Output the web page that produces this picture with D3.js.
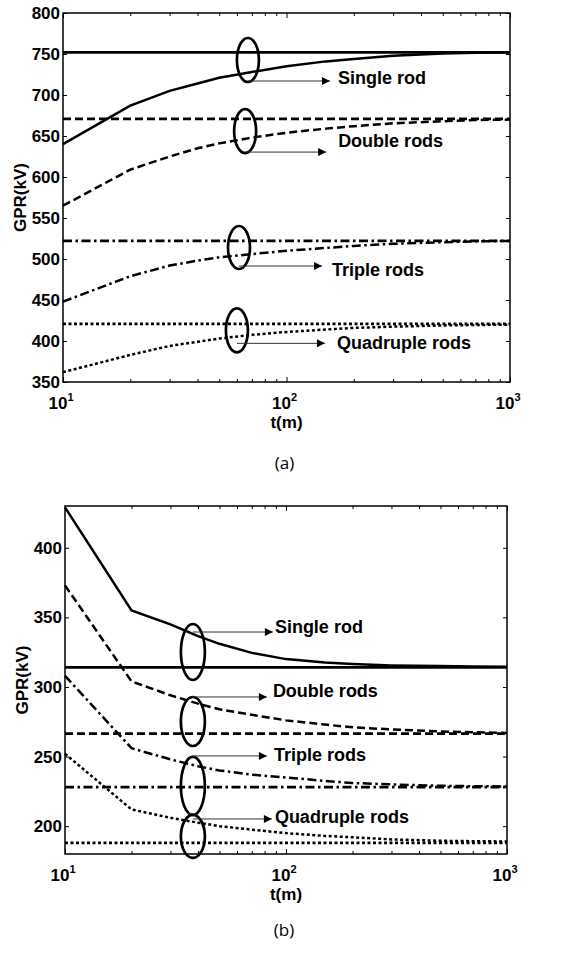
<!DOCTYPE html>
<html>
<head>
<meta charset="utf-8">
<script src="https://cdnjs.cloudflare.com/ajax/libs/d3/7.8.5/d3.min.js"></script>
<style>
body { margin: 0; background: #fff; }
svg text { font-family: "Liberation Sans", Arial, sans-serif; font-weight: bold; fill: #000; }
svg text.caption { font-family: "Open Sans", sans-serif; font-weight: normal; }
</style>
</head>
<body>
<div id="chart"></div>
<script>
// distance t (m), shared by both panels
var tValues = [10, 20, 30, 40, 50, 70, 100, 150, 200, 300, 500, 700, 1000];
var seriesNames = ["Single rod", "Double rods", "Triple rods", "Quadruple rods"];

// panel (a)
var singleA = [640, 687, 705, 714, 721, 728, 735, 741, 744, 748, 750.5, 751.5, 752];
var doubleA = [565, 609, 625, 635, 641, 648, 654, 659, 662, 665.5, 668, 669.5, 670];
var tripleA = [448, 479, 492, 498, 502, 506, 510, 513.5, 516, 518.5, 520.5, 521.5, 522];
var quadA   = [362, 383, 394, 399, 403, 407.5, 411, 414, 416, 417.5, 419, 419.5, 420];
var limitA  = [752, 671, 522, 421];
var yTicksA = [350, 400, 450, 500, 550, 600, 650, 700, 750, 800];
// ellipse anchors [t, GPR]
var notesA  = [[67.2, 742.7], [65.3, 656], [61.3, 514], [60, 413]];

// panel (b)
var singleB = [429, 355, 345, 336.5, 331, 324.5, 320, 317.5, 316.5, 315.5, 315, 314.7, 314.5];
var doubleB = [373, 304, 294, 288, 284, 280, 276, 273, 271, 269.5, 268, 267.5, 267];
var tripleB = [308, 256, 248, 243, 240, 237, 235, 232.5, 231, 230, 229, 228.7, 228.5];
var quadB   = [252, 212, 206, 202.5, 200, 197.5, 195, 193, 192, 190.5, 189.5, 189.2, 189];
var limitB  = [314, 266.5, 228, 188];
var yTicksB = [200, 250, 300, 350, 400];
var notesB  = [[37.9, 325.1], [37.9, 275.2], [37.9, 228.9], [37.9, 192.6]];

var xMajor = [10, 100, 1000];
var xMinor = [20, 30, 40, 50, 60, 70, 80, 90, 200, 300, 400, 500, 600, 700, 800, 900];

var dashes = [null, "8,4", "9,3.5,2.5,3.5", "3,2.5"];

var svg = d3.select("#chart").append("svg")
    .attr("width", 568)
    .attr("height", 958);

svg.append("defs").append("marker")
    .attr("id", "arrow")
    .attr("viewBox", "0 0 10 10")
    .attr("refX", 10).attr("refY", 5)
    .attr("markerWidth", 10).attr("markerHeight", 8)
    .attr("markerUnits", "userSpaceOnUse")
    .attr("orient", "auto")
    .append("path")
    .attr("d", "M0,0L10,5L0,10Z")
    .attr("fill", "#000");

function drawPanel(p) {
    var x = d3.scaleLog().domain([10, 1000]).range([p.left, p.right]);
    var y = d3.scaleLinear().domain(p.yDomain).range([p.bottom, p.top]);
    var g = svg.append("g");

    // inward ticks on all four sides
    g.append("g").attr("transform", "translate(0," + p.bottom + ")")
        .call(d3.axisBottom(x).tickValues(xMinor).tickSize(-3).tickFormat(""));
    g.append("g").attr("transform", "translate(0," + p.bottom + ")")
        .call(d3.axisBottom(x).tickValues(xMajor).tickSize(-5).tickFormat(""));
    g.append("g").attr("transform", "translate(0," + p.top + ")")
        .call(d3.axisTop(x).tickValues(xMinor).tickSize(-3).tickFormat(""));
    g.append("g").attr("transform", "translate(0," + p.top + ")")
        .call(d3.axisTop(x).tickValues(xMajor).tickSize(-5).tickFormat(""));
    g.append("g").attr("transform", "translate(" + p.left + ",0)")
        .call(d3.axisLeft(y).tickValues(p.yTicks).tickSize(-4).tickFormat(""));
    g.append("g").attr("transform", "translate(" + p.right + ",0)")
        .call(d3.axisRight(y).tickValues(p.yTicks).tickSize(-4).tickFormat(""));
    g.selectAll(".domain").remove();
    g.selectAll(".tick line").attr("stroke", "#000").attr("stroke-width", 1);

    // y tick labels
    g.selectAll(".ylab").data(p.yTicks).enter().append("text")
        .attr("x", p.left - 3)
        .attr("y", function (d) { return y(d); })
        .attr("dy", "0.36em")
        .attr("text-anchor", "end")
        .style("font-size", "17px")
        .text(function (d) { return d; });

    // x tick labels 10^n
    var xl = g.selectAll(".xlab").data(xMajor).enter().append("text")
        .attr("x", function (d) { return x(d) - 2; })
        .attr("y", p.bottom + 27)
        .attr("text-anchor", "middle")
        .style("font-size", "17px");
    xl.append("tspan").text("10");
    xl.append("tspan").attr("dy", -8).style("font-size", "11px")
        .text(function (d) { return Math.round(Math.log10(d)); });

    g.append("text")
        .attr("x", (p.left + p.right) / 2)
        .attr("y", p.bottom + 46)
        .attr("text-anchor", "middle")
        .style("font-size", "17px")
        .text("t(m)");

    g.append("text")
        .attr("transform", "translate(" + (p.left - 37) + "," + ((p.top + p.bottom) / 2) + ") rotate(-90)")
        .attr("text-anchor", "middle")
        .style("font-size", "17px")
        .text("GPR(kV)");

    var line = d3.line()
        .x(function (d, i) { return x(tValues[i]); })
        .y(function (d) { return y(d); });

    p.series.forEach(function (s, i) {
        g.append("path")
            .datum(s)
            .attr("d", line)
            .attr("fill", "none")
            .attr("stroke", "#000")
            .attr("stroke-width", 2.5)
            .attr("stroke-dasharray", dashes[i]);
        g.append("line")
            .attr("x1", x(10)).attr("x2", x(1000))
            .attr("y1", y(p.limits[i])).attr("y2", y(p.limits[i]))
            .attr("stroke", "#000")
            .attr("stroke-width", 2.8)
            .attr("stroke-dasharray", dashes[i]);
    });

    // frame
    g.append("rect")
        .attr("x", p.left).attr("y", p.top)
        .attr("width", p.right - p.left).attr("height", p.bottom - p.top)
        .attr("fill", "none").attr("stroke", "#000").attr("stroke-width", 1.5);

    // ellipse + arrow annotations
    p.notes.forEach(function (n, i) {
        var geo = p.noteGeo[i];
        var cx = x(n[0]), cy = y(n[1]);
        g.append("ellipse")
            .attr("cx", cx).attr("cy", cy)
            .attr("rx", p.rx).attr("ry", geo.ry)
            .attr("fill", "none").attr("stroke", "#000").attr("stroke-width", 2.7);
        g.append("line")
            .attr("x1", cx).attr("x2", cx + geo.len)
            .attr("y1", cy + geo.ay).attr("y2", cy + geo.ay)
            .attr("stroke", "#333").attr("stroke-width", 1)
            .attr("marker-end", "url(#arrow)");
        g.append("text")
            .attr("x", cx + geo.len + geo.gap)
            .attr("y", cy + geo.ty)
            .attr("dy", "0.36em")
            .style("font-size", "18px")
            .text(seriesNames[i]);
    });

    svg.append("text")
        .attr("class", "caption")
        .attr("x", (p.left + p.right) / 2 - 2)
        .attr("y", p.captionY)
        .attr("text-anchor", "middle")
        .style("font-size", "17px")
        .text(p.caption);
}

drawPanel({
    left: 63, right: 510, top: 13, bottom: 382,
    yDomain: [350, 800], yTicks: yTicksA,
    series: [singleA, doubleA, tripleA, quadA],
    limits: limitA, notes: notesA, rx: 11,
    noteGeo: [
        { ry: 22, ay: 21, len: 82, gap: 8, ty: 18 },
        { ry: 22, ay: 21, len: 81, gap: 12, ty: 9 },
        { ry: 21.5, ay: 18.5, len: 83, gap: 10, ty: 21.5 },
        { ry: 22, ay: 13, len: 88, gap: 12, ty: 12 }
    ],
    caption: "(a)", captionY: 469
});

drawPanel({
    left: 65, right: 507, top: 506, bottom: 854,
    yDomain: [180, 430], yTicks: yTicksB,
    series: [singleB, doubleB, tripleB, quadB],
    limits: limitB, notes: notesB, rx: 12,
    noteGeo: [
        { ry: 28, ay: -20, len: 80, gap: 2, ty: -26 },
        { ry: 24.5, ay: -24.5, len: 74, gap: 6, ty: -30.5 },
        { ry: 29, ay: -30, len: 74, gap: 7, ty: -31 },
        { ry: 21.5, ay: -17.5, len: 79, gap: 3, ty: -19.5 }
    ],
    caption: "(b)", captionY: 936
});
</script>
</body>
</html>
